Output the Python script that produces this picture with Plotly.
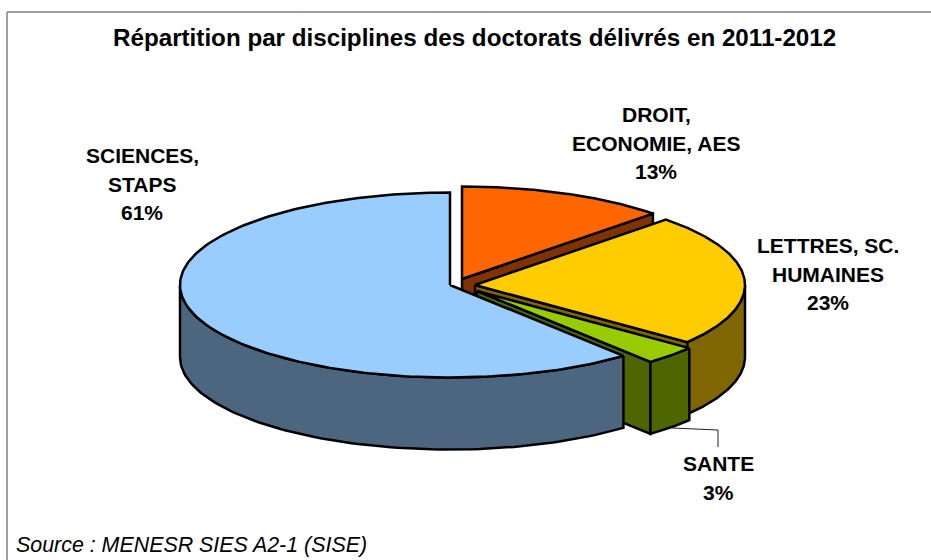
import numpy as np
import plotly.graph_objects as go

categories = ["DROIT,<br>ECONOMIE, AES", "LETTRES, SC.<br>HUMAINES", "SANTE", "SCIENCES,<br>STAPS"]
shares = [12.5, 23.1, 3.3, 61.1]
percent_labels = ["13%", "23%", "3%", "61%"]
title_text = "Répartition par disciplines des doctorats délivrés en 2011-2012"
source_text = "Source : MENESR SIES A2-1 (SISE)"

# styling / layout (pixel-like axes)
top_colors = ["#FF6600", "#FFCC00", "#99CC00", "#99CCFF"]
side_colors = ["#803300", "#806600", "#4D6600", "#4D6680"]
apex_x = [462, 475, 477, 450]
apex_y = [279, 285, 291, 285]
label_x = [656, 828, 718, 142]
label_y = [143, 274, 478, 184]
LINE_STEP = 28.5
RX, RY, DEPTH = 270, 92.5, 72
W, H = 931, 560


def rim(cx, cy, a, b, n=90):
    t = np.radians(np.linspace(a, b, n))
    return cx + RX * np.sin(t), cy - RY * np.cos(t)


def poly(fig, xs, ys, color):
    fig.add_trace(go.Scatter(x=np.r_[xs, xs[0]], y=np.r_[ys, ys[0]], mode="lines", fill="toself",
                             fillcolor=color, line=dict(color="black", width=2.5),
                             hoverinfo="skip", showlegend=False))


fig = go.Figure()
edges = np.r_[0, np.cumsum(shares)] / sum(shares) * 360
for i in range(len(shares)):
    a, b = edges[i], edges[i + 1]
    cx, cy = apex_x[i], apex_y[i]
    if b < 180:  # the cut face at the clockwise end looks towards the viewer
        ex, ey = rim(cx, cy, b, b, 1)
        poly(fig, [cx, ex[0], ex[0], cx], [cy, ey[0], ey[0] + DEPTH, cy + DEPTH], side_colors[i])
    lo, hi = max(a, 90), min(b, 270)
    if lo < hi:  # outer wall, front half only
        wx, wy = rim(cx, cy, lo, hi)
        poly(fig, np.r_[wx, wx[::-1]], np.r_[wy, wy[::-1] + DEPTH], side_colors[i])
    tx, ty = rim(cx, cy, a, b, 200)
    poly(fig, np.r_[cx, tx], np.r_[cy, ty], top_colors[i])

# label texts, one annotation per line for the reference's line spacing
font = dict(family="Liberation Sans, Arial, sans-serif", color="black")
for i in range(len(shares)):
    lines = categories[i].split("<br>") + [percent_labels[i]]
    y0 = label_y[i] - LINE_STEP * (len(lines) - 1) / 2
    for k, line in enumerate(lines):
        fig.add_annotation(x=label_x[i], y=y0 + k * LINE_STEP, xref="x", yref="y", showarrow=False,
                           text=f"<b>{line}</b>", font=dict(size=21, **font))
fig.add_annotation(x=474, y=37, xref="x", yref="y", showarrow=False, text=f"<b>{title_text}</b>",
                   font=dict(size=24.2, **font))
fig.add_annotation(x=14, y=545, xref="x", yref="y", showarrow=False, xanchor="left", text=f"<i>{source_text}</i>",
                   font=dict(size=21.4, **font))

fig.update_layout(
    width=W, height=H, autosize=False, margin=dict(l=0, r=0, t=0, b=0),
    paper_bgcolor="white", plot_bgcolor="white", showlegend=False,
    xaxis=dict(range=[0, W], visible=False, fixedrange=True),
    yaxis=dict(range=[H, 0], visible=False, fixedrange=True),
    shapes=[
        dict(type="line", x0=7, x1=7, y0=12, y1=H, line=dict(color="#808080", width=1.5), layer="below"),
        dict(type="line", x0=7, x1=W, y0=12, y1=12, line=dict(color="#808080", width=1.5), layer="below"),
        dict(type="path", path="M 672 428 L 718 430 L 718 447", line=dict(color="#222222", width=1)),
    ],
)
fig.write_html("out.html", config=dict(displayModeBar=False),
               post_script="document.body.style.margin='0';document.body.style.overflow='hidden';")
